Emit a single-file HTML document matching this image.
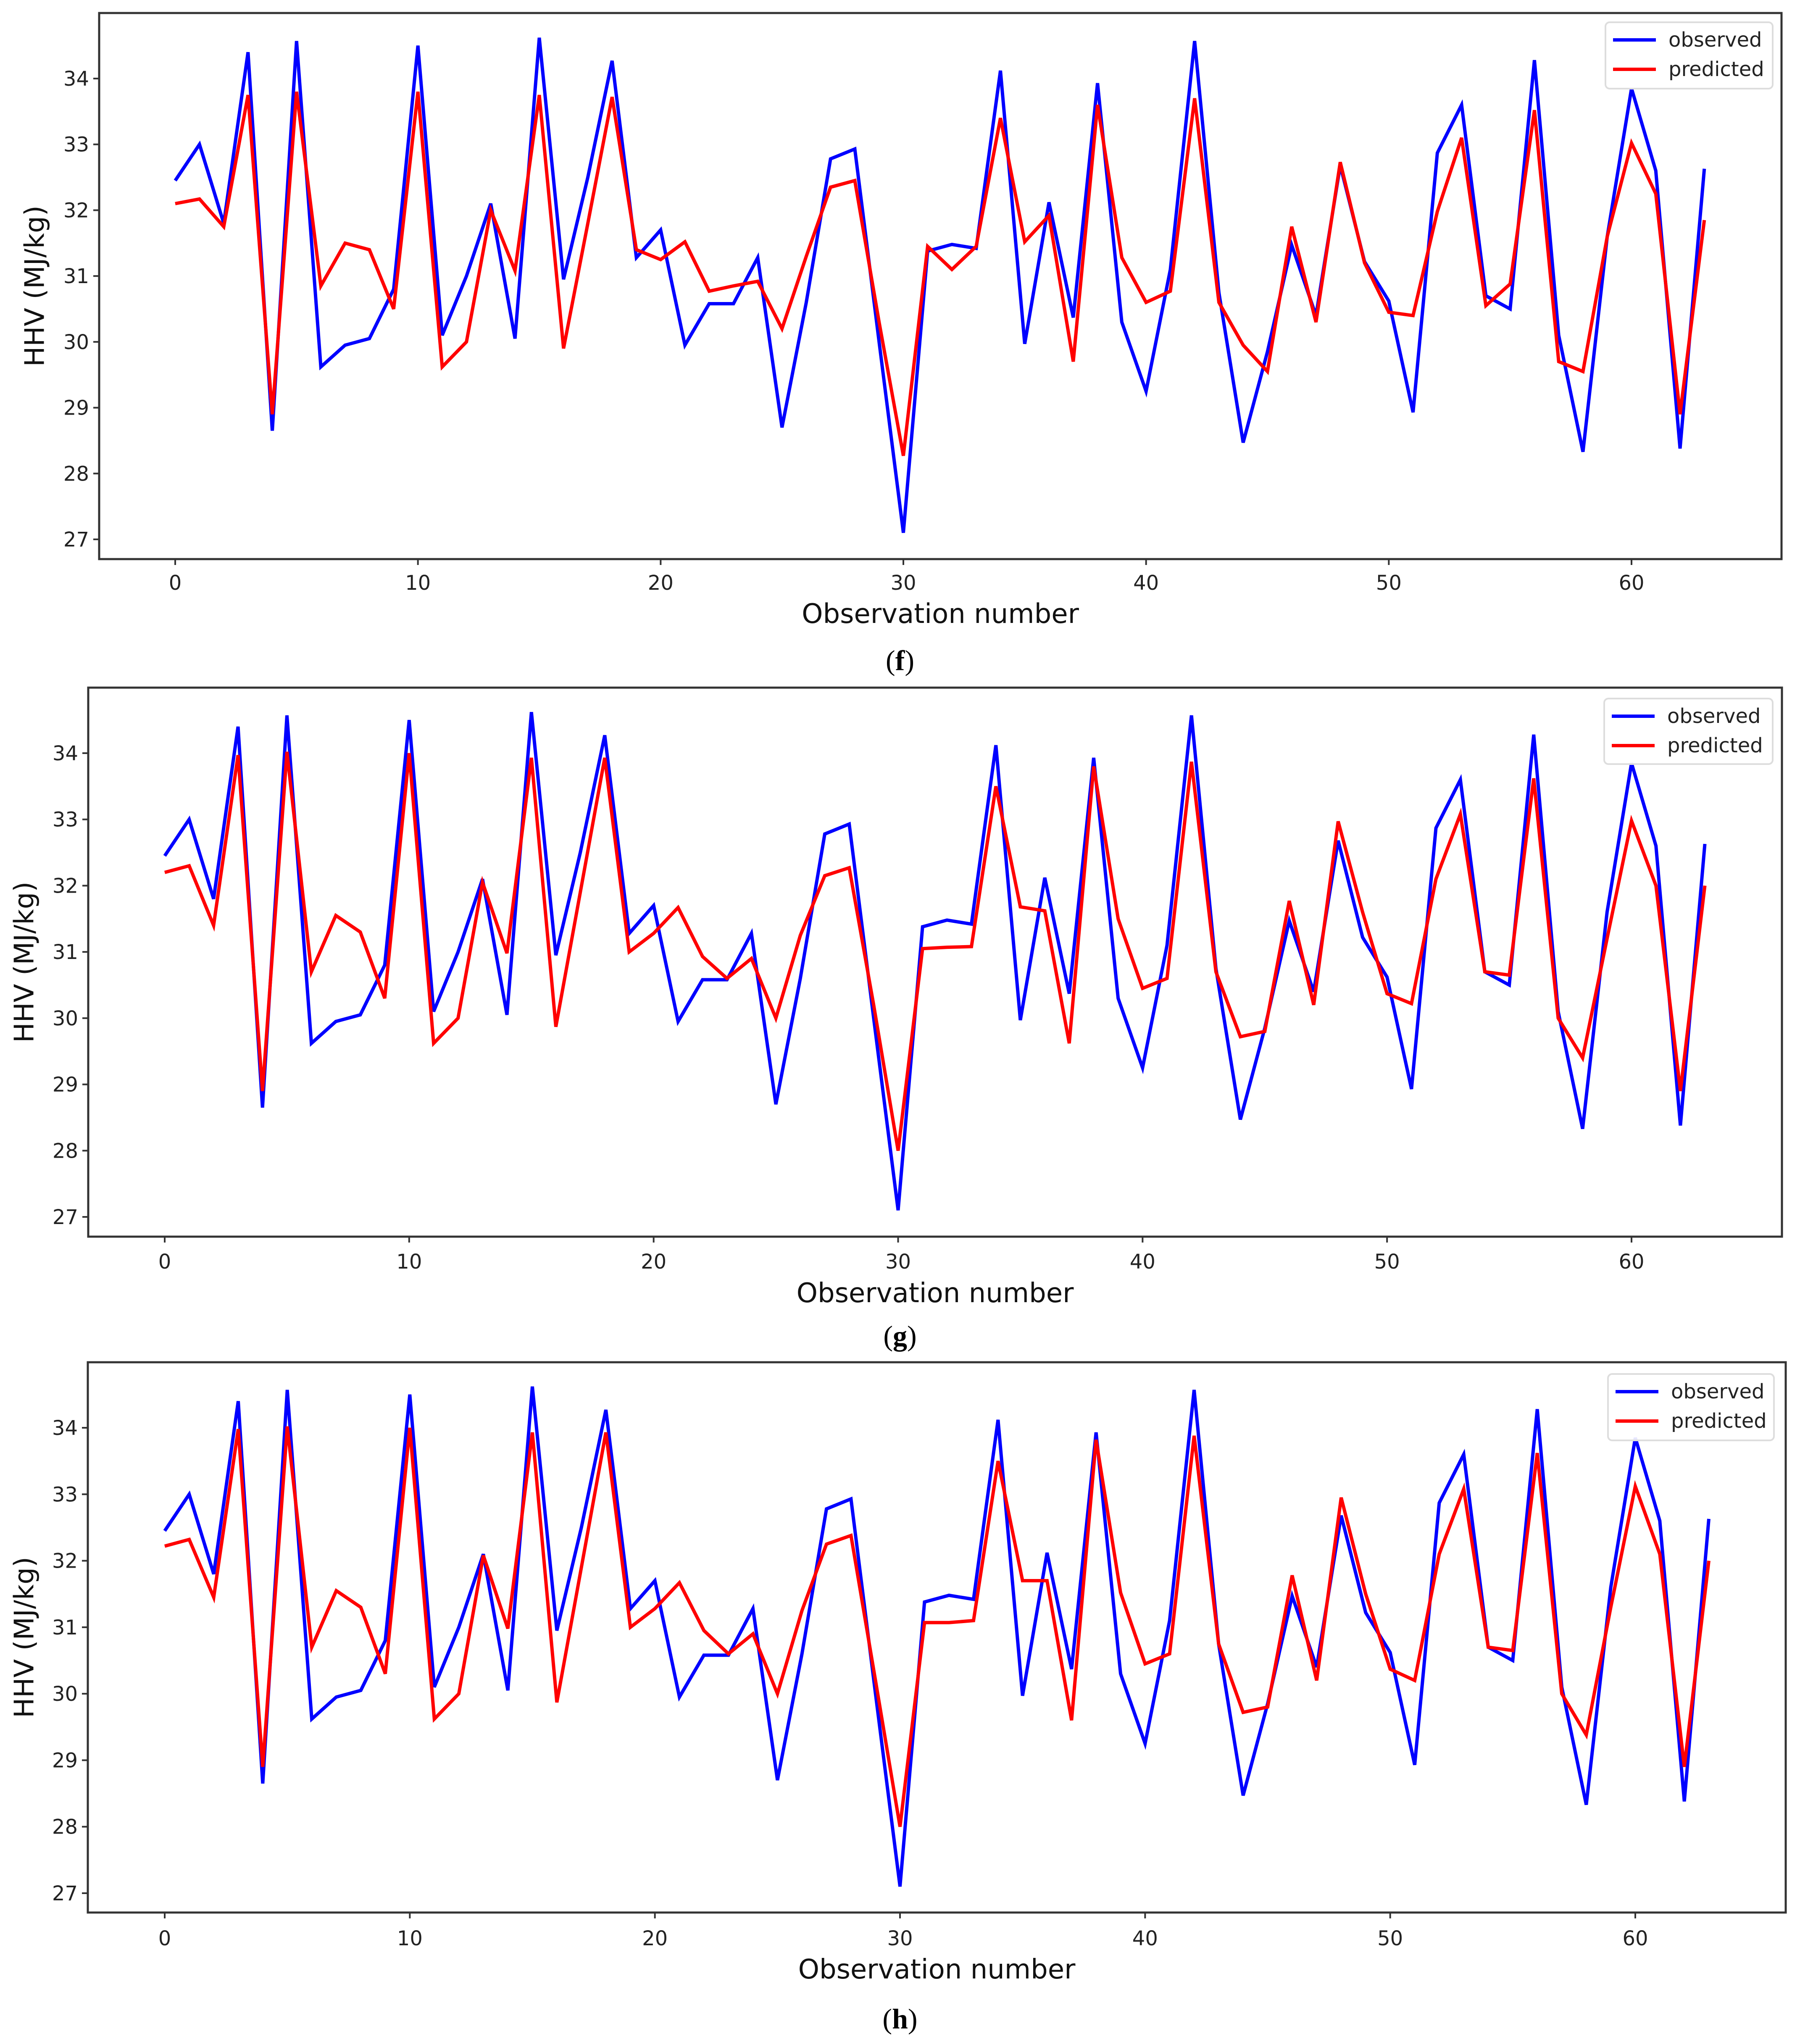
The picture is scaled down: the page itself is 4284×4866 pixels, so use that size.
<!DOCTYPE html>
<html><head><meta charset="utf-8"><style>
html,body{margin:0;padding:0;background:#fff;}
svg{display:block;}
</style></head><body>
<svg id="fig" width="4284" height="4866" viewBox="0 0 4284 4866" xmlns="http://www.w3.org/2000/svg"></svg>
<script>
const observations = Array.from({length:64},(_,i)=>i);
const xTicks = [0,10,20,30,40,50,60];
const yTicks = [27,28,29,30,31,32,33,34];
const observedF = [32.45,33.0,31.8,34.4,28.65,34.57,29.62,29.95,30.05,30.8,34.5,30.1,31.0,32.1,30.05,34.62,30.95,32.5,34.27,31.28,31.7,29.95,30.58,30.58,31.28,28.7,30.6,32.78,32.93,30.0,27.1,31.38,31.48,31.42,34.12,29.97,32.12,30.37,33.93,30.3,29.25,31.1,34.57,30.75,28.47,29.85,31.47,30.4,32.68,31.22,30.62,28.93,32.87,33.6,30.7,30.5,34.28,30.1,28.33,31.6,33.85,32.6,28.38,32.63];
const observedG = observedF.slice();
const observedH = observedF.slice();
const predictedF = [32.1,32.17,31.75,33.75,28.9,33.8,30.85,31.5,31.4,30.5,33.8,29.62,30.0,32.0,31.08,33.75,29.9,31.8,33.72,31.4,31.25,31.52,30.77,30.85,30.92,30.2,31.3,32.35,32.45,30.3,28.27,31.45,31.1,31.45,33.4,31.52,31.92,29.7,33.6,31.28,30.6,30.77,33.7,30.6,29.95,29.55,31.75,30.3,32.73,31.2,30.45,30.4,31.98,33.1,30.55,30.88,33.52,29.7,29.55,31.6,33.02,32.25,28.9,31.85];
const predictedG = [32.2,32.3,31.4,33.97,28.9,34.02,30.7,31.55,31.3,30.3,34.0,29.62,30.0,32.05,30.98,33.93,29.87,31.9,33.93,31.0,31.28,31.67,30.93,30.6,30.9,30.0,31.25,32.15,32.27,30.2,28.0,31.05,31.07,31.08,33.5,31.68,31.62,29.62,33.8,31.5,30.45,30.6,33.87,30.7,29.72,29.8,31.77,30.2,32.97,31.6,30.37,30.22,32.1,33.08,30.7,30.65,33.62,30.0,29.4,31.2,32.98,32.0,28.9,32.0];
const predictedH = [32.22,32.32,31.45,33.98,28.9,34.02,30.7,31.55,31.3,30.3,34.0,29.62,30.0,32.08,30.98,33.93,29.87,31.9,33.93,31.0,31.28,31.67,30.95,30.6,30.9,30.0,31.25,32.25,32.38,30.2,28.0,31.07,31.07,31.1,33.5,31.7,31.7,29.6,33.82,31.52,30.45,30.6,33.88,30.75,29.72,29.8,31.78,30.2,32.95,31.5,30.37,30.2,32.1,33.08,30.7,30.65,33.62,30.0,29.38,31.3,33.12,32.1,28.9,32.0];

const NS="http://www.w3.org/2000/svg";
const svg=document.getElementById('fig');
function mk(tag,attrs,parent){const e=document.createElementNS(NS,tag);for(const k in attrs)e.setAttribute(k,attrs[k]);(parent||svg).appendChild(e);return e;}

const panels=[
 {id:'f',obs:observedF,pred:predictedF,L:236,R:4240,T:31,B:1331,x0:417,x60:3883,y34:187,y27:1284,ylabX:87,tickY:1387,xlabY:1461,capY:1573,leg:[3821,53,398,158]},
 {id:'g',obs:observedG,pred:predictedG,L:210,R:4241,T:1637,B:2944,x0:392,x60:3883,y34:1793,y27:2897,ylabX:62,tickY:3003,xlabY:3078,capY:3181,leg:[3818,1663,401,156]},
 {id:'h',obs:observedH,pred:predictedH,L:209,R:4250,T:3243,B:4553,x0:392,x60:3892,y34:3399,y27:4507,ylabX:62,tickY:4614,xlabY:4688,capY:4807,leg:[3827,3271,395,158]}
];
const FONT='"DejaVu Sans","Liberation Sans",sans-serif';
panels.forEach(p=>{
  const g=mk('g',{});
  
  
  const xs=v=>p.x0+(v-0)*(p.x60-p.x0)/60;
  const ys=v=>p.y34+(34-v)*(p.y27-p.y34)/7;
  const frame=mk('rect',{x:p.L,y:p.T,width:p.R-p.L,height:p.B-p.T,fill:'none',stroke:'#333',"stroke-width":5},g);
  
  
  xTicks.forEach(t=>{
    const x=xs(t);
    mk('line',{x1:x,x2:x,y1:p.B,y2:p.B+14,stroke:'#333',"stroke-width":4},g);
    const tx=mk('text',{x:x,y:p.tickY+17,"text-anchor":"middle","font-size":48,"font-family":FONT,fill:'#222'},g);
    tx.textContent=t;
    
    
  });
  yTicks.forEach(t=>{
    const y=ys(t);
    mk('line',{x1:p.L-14,x2:p.L,y1:y,y2:y,stroke:'#333',"stroke-width":4},g);
    const tx=mk('text',{x:p.L-24,y:y+17,"text-anchor":"end","font-size":48,"font-family":FONT,fill:'#222'},g);
    tx.textContent=t;
    
    
  });
  const yl=mk('text',{x:p.ylabX,y:(p.T+p.B)/2,"text-anchor":"middle","font-size":64,"font-family":FONT,fill:'#111',transform:`rotate(-90 ${p.ylabX} ${(p.T+p.B)/2})`,"dominant-baseline":"middle"},g);
  yl.textContent='HHV (MJ/kg)';
  
  
  const xl=mk('text',{x:(p.L+p.R)/2,y:p.xlabY+22,"text-anchor":"middle","font-size":64,"font-family":FONT,fill:'#111'},g);
  xl.textContent='Observation number';
  
  
  const cap=mk('text',{x:2142,y:p.capY+22,"text-anchor":"middle","font-size":68,"font-family":'"Liberation Serif",serif',fill:'#000'},g);
  cap.innerHTML='(<tspan font-weight="bold">'+p.id+'</tspan>)';
  
  
  [[p.obs,'#0000ff','observed'],[p.pred,'#ff0000','predicted']].forEach(([arr,c,n])=>{
    const pts=observations.map((o,i)=>xs(o)+','+ys(arr[i])).join(' ');
    const pl=mk('polyline',{points:pts,fill:'none',stroke:c,"stroke-width":8,"stroke-linejoin":"miter"},g);
    
    
  });
  const [lx,ly,lw,lh]=p.leg;
  const lg=mk('g',{},g);
  
  
  mk('rect',{x:lx,y:ly,width:lw,height:lh,rx:10,fill:'#fff',"fill-opacity":0.9,stroke:'#ddd',"stroke-width":4},lg);
  [['observed','#0000ff'],['predicted','#ff0000']].forEach(([n,c],k)=>{
    const yy=ly+42+k*70;
    const ln=mk('line',{x1:lx+18,x2:lx+120,y1:yy,y2:yy,stroke:c,"stroke-width":8},lg);
    
    
    const t=mk('text',{x:lx+150,y:yy+16,"font-size":48,"font-family":FONT,fill:'#222'},lg);
    t.textContent=n;
    
    
  });
});
</script>
</body></html>
